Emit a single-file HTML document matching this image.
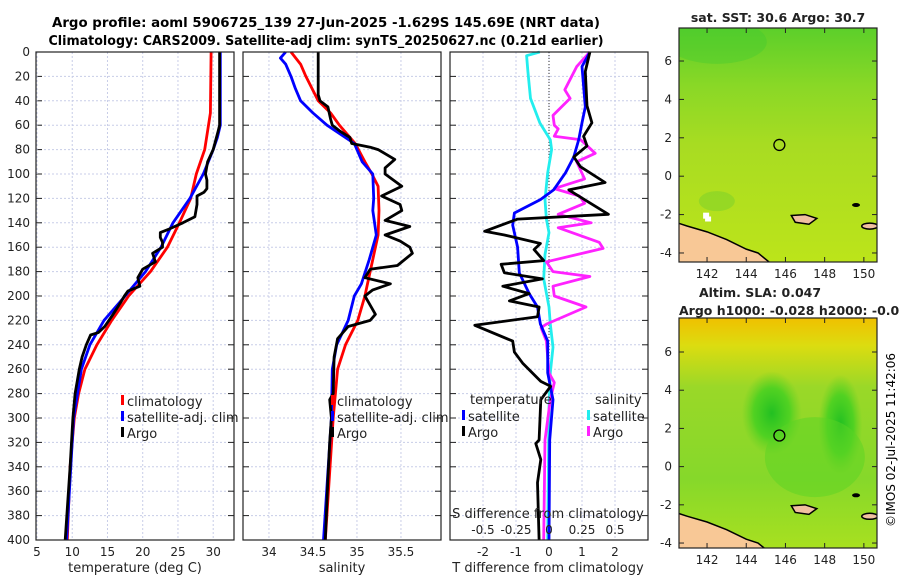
<!DOCTYPE html>
<html><head><meta charset="utf-8"><style>
body{margin:0;background:#fff}
svg{display:block;font-family:"DejaVu Sans","Liberation Sans",sans-serif}
</style></head><body>
<svg id="c" width="900" height="580" viewBox="0 0 900 580">
<defs>
<linearGradient id="sstg" x1="0" y1="0" x2="0" y2="1">
<stop offset="0" stop-color="#5ccf2a"/><stop offset="0.25" stop-color="#8ad826"/><stop offset="0.5" stop-color="#a8dc22"/><stop offset="1" stop-color="#bce41a"/></linearGradient>
<linearGradient id="slag" x1="0" y1="0" x2="0" y2="1">
<stop offset="0" stop-color="#f0c000"/><stop offset="0.12" stop-color="#dcdc10"/><stop offset="0.3" stop-color="#9ad828"/><stop offset="0.7" stop-color="#86d82a"/><stop offset="1" stop-color="#a8e020"/></linearGradient>
<radialGradient id="blob" cx="0.5" cy="0.5" r="0.5"><stop offset="0" stop-color="#22c022"/><stop offset="0.6" stop-color="#40d020" stop-opacity="0.8"/><stop offset="1" stop-color="#60d020" stop-opacity="0"/></radialGradient>
</defs>
<g id="titles">
<text x="326" y="27" text-anchor="middle" font-weight="bold" font-size="13" textLength="548" lengthAdjust="spacingAndGlyphs">Argo profile: aoml 5906725_139 27-Jun-2025 -1.629S 145.69E (NRT data)</text>
<text x="326" y="45" text-anchor="middle" font-weight="bold" font-size="13" textLength="555" lengthAdjust="spacingAndGlyphs">Climatology: CARS2009. Satellite-adj clim: synTS_20250627.nc (0.21d earlier)</text>
</g>
<g id="plots"></g>
<g id="maps"></g>
<text transform="translate(895,440) rotate(-90)" text-anchor="middle" font-size="12">©IMOS 02-Jul-2025 11:42:06</text>
</svg>
<script>
// ---- data (depth in m) ----
const climTDepth=[0,50,80,100,120,140,160,180,200,220,240,260,280,300,340,400];
const climT=[29.7,29.6,28.8,27.6,26.8,25.2,23.5,21.1,18.0,15.6,13.5,11.8,10.9,10.3,9.7,9.3];
const satTDepth=[0,60,70,80,90,100,120,140,160,180,200,220,240,260,300,400];
const satT=[31.0,31.0,30.6,30.0,29.3,28.6,26.7,24.3,22.6,20.4,17.5,14.5,12.5,11.3,10.2,9.2];
const argoTDepth=[0,60,65,80,90,100,105,112,115,118,125,135,140,145,148,152,156,160,165,172,178,185,192,196,200,205,215,225,230,232,240,250,260,280,300,340,400];
const argoT=[30.9,30.9,30.7,30.0,29.2,28.9,29.1,29.1,28.7,27.7,27.7,27.4,25.7,23.8,22.5,22.5,22.8,22.8,21.4,21.8,20.0,19.3,19.6,17.9,17.4,16.9,15.8,14.6,13.7,12.6,12.0,11.4,11.0,10.4,10.1,9.7,9.0];
const climSDepth=[0,10,20,40,50,60,75,90,100,110,130,150,170,190,200,220,240,260,300,400];
const climS=[34.25,34.36,34.42,34.56,34.70,34.80,34.98,35.09,35.17,35.24,35.25,35.24,35.18,35.12,35.09,35.01,34.87,34.78,34.73,34.64];
const satSDepth=[0,5,10,20,30,40,50,60,75,90,100,120,130,150,170,190,200,220,240,260,300,400];
const satS=[34.19,34.13,34.19,34.25,34.30,34.36,34.50,34.66,34.97,35.06,35.18,35.19,35.18,35.22,35.14,35.05,34.97,34.90,34.77,34.72,34.71,34.62];
const argoSDepth=[0,35,40,45,55,60,65,70,75,78,80,88,95,100,110,118,125,130,138,143,150,155,160,165,175,178,185,190,195,200,205,215,220,225,235,250,280,285,300,320,350,400];
const argoS=[34.56,34.56,34.58,34.67,34.70,34.72,34.81,34.92,34.94,35.15,35.24,35.43,35.32,35.32,35.51,35.28,35.49,35.51,35.32,35.60,35.32,35.49,35.60,35.63,35.46,35.15,35.09,35.38,35.18,35.09,35.13,35.21,35.15,34.90,34.78,34.74,34.73,34.69,34.71,34.69,34.67,34.64];
// differences
const dSatTDepth=[0,12,45,58,72,86,99,113,121,132,142,160,181,198,209,223,237,263,285,318,400];
const dSatT=[1.24,1.0,1.1,1.0,0.9,0.75,0.5,0.14,-0.26,-1.05,-1.1,-0.95,-0.9,-0.6,-0.35,-0.26,-0.04,-0.04,0.12,0.02,0.0];
const dArgoTDepth=[0,16,44,58,69,77,86,94,107,113,133,137,147,150,157,162,171,174,181,186,192,198,204,209,217,224,237,246,255,270,274,285,318,321,334,353,400];
const dArgoT=[1.24,1.1,1.15,1.3,1.05,1.15,0.75,0.95,1.7,0.6,1.8,-0.95,-1.95,-1.35,-0.26,-0.45,-0.16,-1.45,-1.35,-0.2,-1.4,-0.6,-1.2,-0.3,-0.35,-2.25,-1.1,-1.05,-0.8,-0.25,0.05,-0.25,-0.3,-0.4,-0.25,-0.35,-0.3];
const dSatSDepth=[0,3,16,38,58,72,80,99,121,137,148,166,186,209,223,242,263,291,400];
const dSatS=[-0.07,-0.17,-0.16,-0.14,-0.07,0.01,0.02,-0.01,-0.03,-0.02,0.0,-0.03,-0.04,0.0,0.01,0.03,0.01,0.0,-0.01];
const dArgoSDepth=[0,12,31,38,52,60,63,69,72,83,90,104,112,118,124,133,140,144,156,161,172,180,184,192,200,209,223,226,237,263,271,285,318,400];
const dArgoS=[0.31,0.21,0.12,0.16,0.03,0.04,0.07,0.04,0.24,0.35,0.21,0.27,0.04,0.23,0.27,0.07,0.32,0.07,0.38,0.41,-0.02,0.03,0.31,0.03,0.04,0.28,-0.02,-0.06,-0.02,0.0,0.04,0.01,-0.03,-0.04];
const depthTicks=[0,20,40,60,80,100,120,140,160,180,200,220,240,260,280,300,320,340,360,380,400];
const tTicks=[5,10,15,20,25,30];
const sTicks=[34,34.5,35,35.5];
const sTickLabels=["34","34.5","35","35.5"];
const dTTicks=[-2,-1,0,1,2];
const dSTicks=[-0.5,-0.25,0,0.25,0.5];
const dSTickLabels=["-0.5","-0.25","0","0.25","0.5"];
const lonTicks=[142,144,146,148,150];
const latTicks=[-4,-2,0,2,4,6];
const argoLon=145.69, argoLat=1.629;

const NS="http://www.w3.org/2000/svg";
function mk(tag,attrs,parent){const e=document.createElementNS(NS,tag);for(const k in attrs)e.setAttribute(k,attrs[k]);parent.appendChild(e);return e;}
const plots=document.getElementById('plots');
const Y0=52,Y1=540;
const yD=d=>Y0+(d/400)*(Y1-Y0);
function panel(name,x0,x1,xmin,xmax){
  const g=mk('g',{},plots);
  
  
  const xs=v=>x0+(v-xmin)/(xmax-xmin)*(x1-x0);
  return {g,xs,x0,x1};
}
function grid(p,xticks){
  depthTicks.forEach(d=>{const l=mk('line',{x1:p.x0,x2:p.x1,y1:yD(d),y2:yD(d),stroke:'#c8cde8','stroke-width':1,'stroke-dasharray':'2,2'},p.g);
    
    
    mk('line',{x1:p.x0,x2:p.x0+6,y1:yD(d),y2:yD(d),stroke:'#222'},p.g);
    mk('line',{x1:p.x1-6,x2:p.x1,y1:yD(d),y2:yD(d),stroke:'#222'},p.g);});
  xticks.forEach(v=>{const x=p.xs(v);const l=mk('line',{x1:x,x2:x,y1:Y0,y2:Y1,stroke:'#c8cde8','stroke-width':1,'stroke-dasharray':'2,2'},p.g);
    
    });
}
function box(p){const r=mk('rect',{x:p.x0,y:Y0,width:p.x1-p.x0,height:Y1-Y0,fill:'none',stroke:'#222','stroke-width':1.2},p.g);
  
  }
function line(p,xv,dv,color,name,xf){
  const f=xf||p.xs;
  const d=xv.map((v,i)=>(i?'L':'M')+f(v).toFixed(1)+','+yD(dv[i]).toFixed(1)).join('');
  const e=mk('path',{d,fill:'none',stroke:color,'stroke-width':2.8,'stroke-linejoin':'round'},p.g);
  
  
}
function txt(parent,x,y,s,opts){const t=mk('text',Object.assign({x,y,'font-size':12,fill:'#222'},opts||{}),parent);t.textContent=s;return t;}
function legendItem(parent,x,y,color,label,name){
  const r=mk('rect',{x:x,y:y-11,width:3,height:10,fill:color},parent);
  
  
  const t=txt(parent,x+6,y,label,{'font-size':13});
  
  
}

// Panel 1: temperature
const p1=panel('temperature-panel',36,234,4.86,32.95);
grid(p1,tTicks);
line(p1,climT,climTDepth,'#ff0000','climatology-temp-line');
line(p1,satT,satTDepth,'#0000ff','satellite-temp-line');
line(p1,argoT,argoTDepth,'#000000','argo-temp-line');
box(p1);
depthTicks.forEach(d=>{const t=txt(p1.g,30,yD(d)+4,String(d),{'text-anchor':'end'});
  
  });
tTicks.forEach(v=>{const t=txt(p1.g,p1.xs(v),556,String(v),{'text-anchor':'middle'});
  
  });
txt(p1.g,135,572,'temperature (deg C)',{'text-anchor':'middle','font-size':13});
legendItem(p1.g,121,406,'#ff0000','climatology','legend-climatology');
legendItem(p1.g,121,422,'#0000ff','satellite-adj. clim','legend-satellite');
legendItem(p1.g,121,438,'#000000','Argo','legend-argo');

// Panel 2: salinity
const p2=panel('salinity-panel',243,441,33.705,35.955);
grid(p2,sTicks);
line(p2,climS,climSDepth,'#ff0000','climatology-sal-line');
line(p2,satS,satSDepth,'#0000ff','satellite-sal-line');
line(p2,argoS,argoSDepth,'#000000','argo-sal-line');
box(p2);
sTicks.forEach((v,i)=>{const t=txt(p2.g,p2.xs(v),556,sTickLabels[i],{'text-anchor':'middle'});
  
  });
txt(p2.g,342,572,'salinity',{'text-anchor':'middle','font-size':13});
legendItem(p2.g,331,406,'#ff0000','climatology','legend-climatology-sal');
legendItem(p2.g,331,422,'#0000ff','satellite-adj. clim','legend-satellite-sal');
legendItem(p2.g,331,438,'#000000','Argo','legend-argo-sal');

// Panel 3: differences
const p3=panel('difference-panel',450,648,-3,3);
const xsS=v=>p3.xs(v*4);
grid(p3,dTTicks);
mk('line',{x1:p3.xs(0),x2:p3.xs(0),y1:Y0,y2:Y1,stroke:'#333','stroke-dasharray':'1,2'},p3.g);
line(p3,dSatS,dSatSDepth,'#22eeee','satellite-sal-diff-line',xsS);
line(p3,dArgoS,dArgoSDepth,'#ff22ff','argo-sal-diff-line',xsS);
line(p3,dSatT,dSatTDepth,'#0000ff','satellite-temp-diff-line');
line(p3,dArgoT,dArgoTDepth,'#000000','argo-temp-diff-line');
box(p3);
dTTicks.forEach(v=>{const t=txt(p3.g,p3.xs(v),556,String(v),{'text-anchor':'middle'});
  
  });
dSTicks.forEach((v,i)=>{const t=txt(p3.g,xsS(v),534,dSTickLabels[i],{'text-anchor':'middle'});
  
  });
txt(p3.g,548,518,'S difference from climatology',{'text-anchor':'middle','font-size':13});
txt(p3.g,548,572,'T difference from climatology',{'text-anchor':'middle','font-size':13});
txt(p3.g,470,404,'temperature',{'font-size':13});
txt(p3.g,595,404,'salinity',{'font-size':13});
legendItem(p3.g,462,421,'#0000ff','satellite','legend-tdiff-satellite');
legendItem(p3.g,462,437,'#000000','Argo','legend-tdiff-argo');
legendItem(p3.g,587,421,'#22eeee','satellite','legend-sdiff-satellite');
legendItem(p3.g,587,437,'#ff22ff','Argo','legend-sdiff-argo');

// ---- maps ----
const maps=document.getElementById('maps');
function map(name,y0,y1,latTop,latBot,fill,extra){
  const g=mk('g',{},maps);
  
  
  const x0=679,x1=877,lonMin=140.57,lonMax=150.67;
  const xs=v=>x0+(v-lonMin)/(lonMax-lonMin)*(x1-x0);
  const ys=v=>y0+(latTop-v)/(latTop-latBot)*(y1-y0);
  const cp='clip'+name;
  const c=mk('clipPath',{id:cp},g);mk('rect',{x:x0,y:y0,width:x1-x0,height:y1-y0},c);
  const inner=mk('g',{'clip-path':'url(#'+cp+')'},g);
  mk('rect',{x:x0,y:y0,width:x1-x0,height:y1-y0,fill:fill},inner);
  extra(inner,xs,ys);
  const land=[[140.4,-2.4],[141,-2.6],[142,-2.9],[143,-3.3],[144,-3.8],[144.6,-4.0],[145.2,-4.5],[140.4,-4.5]];
  const lp=mk('path',{d:land.map((p,i)=>(i?'L':'M')+xs(p[0])+','+ys(p[1])).join('')+'Z',fill:'#f8c896',stroke:'#000','stroke-width':1.5},inner);
  
  
  const isl=[[146.3,-2.05],[147,-2.0],[147.6,-2.2],[147.2,-2.5],[146.5,-2.4]];
  mk('path',{d:isl.map((p,i)=>(i?'L':'M')+xs(p[0])+','+ys(p[1])).join('')+'Z',fill:'#f0c0a0',stroke:'#000','stroke-width':1.5},inner);
  mk('ellipse',{cx:xs(150.3),cy:ys(-2.6),rx:8,ry:3,fill:'#f0c0a0',stroke:'#000','stroke-width':1.5},inner);
  mk('ellipse',{cx:xs(149.6),cy:ys(-1.5),rx:4,ry:2,fill:'#000'},inner);
  const m=mk('circle',{cx:xs(argoLon),cy:ys(argoLat),r:5.5,fill:'none',stroke:'#000','stroke-width':1.3},inner);
  
  
  mk('rect',{x:x0,y:y0,width:x1-x0,height:y1-y0,fill:'none',stroke:'#222','stroke-width':1.2},g);
  lonTicks.forEach(v=>{mk('line',{x1:xs(v),x2:xs(v),y1:y1,y2:y1-5,stroke:'#222'},g);mk('line',{x1:xs(v),x2:xs(v),y1:y0,y2:y0+5,stroke:'#222'},g);
    const t=txt(g,xs(v),y1+16,String(v),{'text-anchor':'middle'});
    
    });
  latTicks.forEach(v=>{mk('line',{x1:x0,x2:x0+5,y1:ys(v),y2:ys(v),stroke:'#222'},g);mk('line',{x1:x1,x2:x1-5,y1:ys(v),y2:ys(v),stroke:'#222'},g);
    const t=txt(g,x0-7,ys(v)+4,String(v),{'text-anchor':'end'});
    
    });
  return g;
}
map('sst-map',28,262,7.72,-4.47,'url(#sstg)',(g,xs,ys)=>{
  mk('ellipse',{cx:xs(142.5),cy:ys(7),rx:50,ry:22,fill:'#3cc830',opacity:0.35},g);
  mk('ellipse',{cx:xs(142.5),cy:ys(-1.3),rx:18,ry:10,fill:'#60c830',opacity:0.35},g);
  mk('rect',{x:xs(141.8),y:ys(-1.9),width:6,height:6,fill:'#fff'},g);
  mk('rect',{x:xs(141.9),y:ys(-2.1),width:6,height:5,fill:'#fff'},g);
});
txt(maps,778,22,'sat. SST: 30.6 Argo: 30.7',{'text-anchor':'middle','font-weight':'bold','font-size':12.5});
map('sla-map',318,548,7.78,-4.26,'url(#slag)',(g,xs,ys)=>{
  mk('ellipse',{cx:xs(145.3),cy:ys(2.8),rx:30,ry:42,fill:'url(#blob)'},g);
  mk('ellipse',{cx:xs(148.8),cy:ys(2.2),rx:22,ry:50,fill:'url(#blob)'},g);
  mk('ellipse',{cx:xs(147.5),cy:ys(0.5),rx:50,ry:40,fill:'#5ad424',opacity:0.5},g);
});
txt(maps,760,297,'Altim. SLA: 0.047',{'text-anchor':'middle','font-weight':'bold','font-size':12.5});
txt(maps,679,315,'Argo h1000: -0.028 h2000: -0.038',{'font-weight':'bold','font-size':12.5});
</script>
</body></html>
